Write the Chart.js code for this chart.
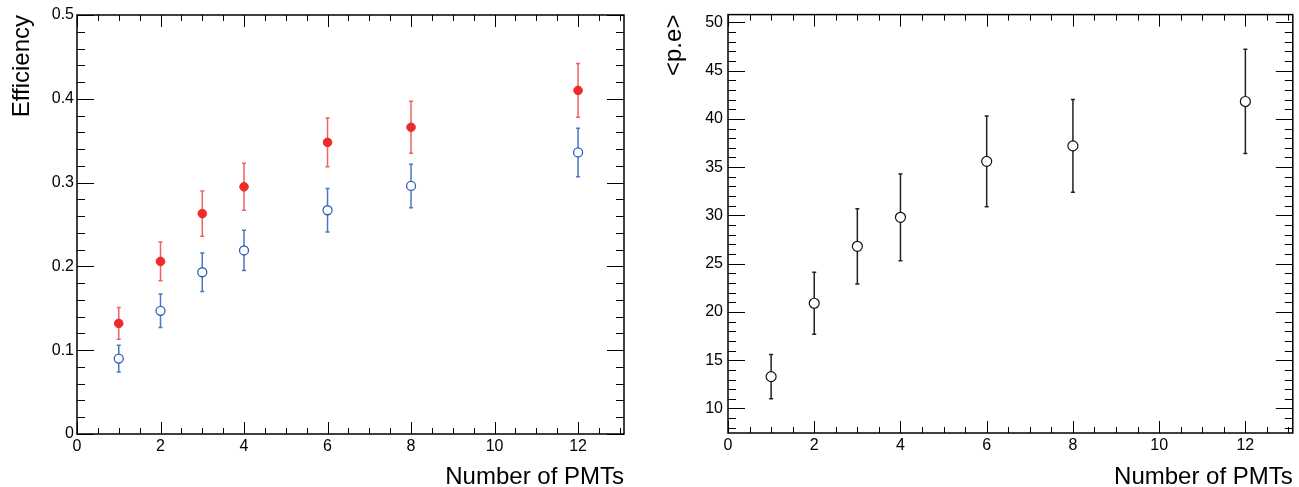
<!DOCTYPE html>
<html>
<head>
<meta charset="utf-8">
<script src="https://cdn.jsdelivr.net/npm/chart.js@4.4.0/dist/chart.umd.min.js"></script>
<style>
  body { margin: 0; background: #fff; }
  #wrap { position: relative; width: 1299px; height: 487px; }
  canvas { position: absolute; top: 0; }
</style>
</head>
<body>
<div id="wrap">
  <canvas id="eff-chart" width="650" height="487" style="left:0"></canvas>
  <canvas id="pe-chart" width="649" height="487" style="left:650px"></canvas>
</div>
<script>
// number of PMTs on the x axis (both panels)
const nPMT = [1, 2, 3, 4, 6, 8, 12];

// left panel: efficiency, two series
const effRed = [0.132, 0.206, 0.263, 0.295, 0.348, 0.366, 0.410];
const effRedErr = [0.019, 0.023, 0.027, 0.028, 0.029, 0.031, 0.032];
const effBlue = [0.090, 0.147, 0.193, 0.219, 0.267, 0.296, 0.336];
const effBlueErr = [0.016, 0.020, 0.023, 0.024, 0.026, 0.026, 0.029];

// right panel: mean photo-electrons
const pe = [13.3, 20.9, 26.8, 29.8, 35.6, 37.2, 41.8];
const peErr = [2.3, 3.2, 3.9, 4.5, 4.7, 4.8, 5.4];

const FONT = "'Liberation Sans', Arial, Helvetica, sans-serif";

function pts(ys) {
    return nPMT.map((n, i) => ({x: n, y: ys[i]}));
}

// vertical error bars with small caps, drawn under the markers
const errorBars = {
    id: 'errorBars',
    beforeDatasetsDraw(chart) {
        const {ctx, scales: {x, y}} = chart;
        chart.data.datasets.forEach(ds => {
            ctx.save();
            ctx.strokeStyle = ds.errColor;
            ctx.lineWidth = 1.5;
            ds.data.forEach((p, i) => {
                const px = x.getPixelForValue(p.x);
                const top = y.getPixelForValue(p.y + ds.errors[i]);
                const bot = y.getPixelForValue(p.y - ds.errors[i]);
                ctx.beginPath();
                ctx.moveTo(px, top);
                ctx.lineTo(px, bot);
                ctx.moveTo(px - 2, top);
                ctx.lineTo(px + 2, top);
                ctx.moveTo(px - 2, bot);
                ctx.lineTo(px + 2, bot);
                ctx.stroke();
            });
            ctx.restore();
        });
    }
};

// ROOT-like frame: box plus inward major/minor ticks on all four sides
function eachTick(min, max, minor, major, fn) {
    const start = Math.ceil(min / minor - 1e-6);
    for (let k = start; k * minor <= max + 1e-9; k++) {
        const v = k * minor;
        const r = v / major;
        fn(v, Math.abs(r - Math.round(r)) < 1e-6);
    }
}

const rootFrame = {
    id: 'rootFrame',
    afterDatasetsDraw(chart, args, o) {
        const {ctx, chartArea: a, scales: {x, y}} = chart;
        ctx.save();
        ctx.strokeStyle = '#000';
        ctx.lineWidth = 1;
        ctx.beginPath();
        eachTick(x.min, x.max, o.xMinor, o.xMajor, (v, major) => {
            const px = Math.round(x.getPixelForValue(v)) + 0.5;
            const len = major ? 12 : 6;
            ctx.moveTo(px, a.bottom);
            ctx.lineTo(px, a.bottom - len);
            ctx.moveTo(px, a.top);
            ctx.lineTo(px, a.top + len);
        });
        eachTick(y.min, y.max, o.yMinor, o.yMajor, (v, major) => {
            const py = Math.round(y.getPixelForValue(v)) + 0.5;
            const len = major ? 17 : 8;
            ctx.moveTo(a.left, py);
            ctx.lineTo(a.left + len, py);
            ctx.moveTo(a.right, py);
            ctx.lineTo(a.right - len, py);
        });
        ctx.stroke();
        ctx.lineWidth = 1.5;
        ctx.strokeRect(a.left, a.top, a.right - a.left, a.bottom - a.top);
        ctx.restore();
    }
};

function makeChart(id, datasets, opt) {
    const ctx = document.getElementById(id).getContext('2d');
    return new Chart(ctx, {
        type: 'scatter',
        data: {datasets: datasets},
        options: {
            responsive: false,
            animation: false,
            events: [],
            layout: {padding: opt.padding},
            plugins: {
                legend: {display: false},
                tooltip: {enabled: false},
                rootFrame: opt.ticks
            },
            scales: {
                x: {
                    type: 'linear',
                    min: 0,
                    max: 13.1,
                    grid: {display: false, drawTicks: false},
                    border: {display: false},
                    ticks: {
                        stepSize: 2,
                        includeBounds: false,
                        padding: 3,
                        color: '#000',
                        font: {family: FONT, size: 16}
                    },
                    title: {
                        display: true,
                        text: 'Number of PMTs',
                        align: 'end',
                        color: '#000',
                        font: {family: FONT, size: 24, lineHeight: 1},
                        padding: {top: 0, bottom: -2}
                    },
                    afterFit(scale) {
                        scale.height = opt.xHeight;
                    }
                },
                y: {
                    type: 'linear',
                    min: opt.yMin,
                    max: opt.yMax,
                    grid: {display: false, drawTicks: false},
                    border: {display: false},
                    ticks: {
                        stepSize: opt.yStep,
                        includeBounds: false,
                        padding: opt.yPad,
                        color: '#000',
                        font: {family: FONT, size: 16}
                    },
                    title: {
                        display: true,
                        text: opt.yTitle,
                        align: 'end',
                        color: '#000',
                        font: {family: FONT, size: 24, lineHeight: 1.2},
                        padding: {top: opt.yTitlePad, bottom: 0}
                    },
                    afterFit(scale) {
                        scale.width = opt.yWidth;
                    }
                }
            }
        },
        plugins: [errorBars, rootFrame]
    });
}

makeChart('eff-chart', [
    {
        data: pts(effRed),
        errors: effRedErr,
        errColor: '#f06262',
        pointRadius: 4.3,
        pointBackgroundColor: '#ee2b2b',
        pointBorderColor: '#ee2b2b',
        pointBorderWidth: 1
    },
    {
        data: pts(effBlue),
        errors: effBlueErr,
        errColor: '#4a78c2',
        pointRadius: 4.5,
        pointBackgroundColor: '#ffffff',
        pointBorderColor: '#2f62b8',
        pointBorderWidth: 1.3
    }
], {
    padding: {top: 15, right: 26, left: 0, bottom: 0},
    xHeight: 53,
    yWidth: 77,
    yMin: 0,
    yMax: 0.5,
    yStep: 0.1,
    yPad: 3,
    yTitle: 'Efficiency',
    yTitlePad: 8,
    ticks: {xMinor: 0.5, xMajor: 2, yMinor: 0.02, yMajor: 0.1}
});

makeChart('pe-chart', [
    {
        data: pts(pe),
        errors: peErr,
        errColor: '#222222',
        pointRadius: 5,
        pointBackgroundColor: '#ffffff',
        pointBorderColor: '#111111',
        pointBorderWidth: 1.2
    }
], {
    padding: {top: 13, right: 4, left: 0, bottom: 0},
    xHeight: 54,
    yWidth: 78,
    yMin: 7.46,
    yMax: 50.8,
    yStep: 5,
    yPad: 5,
    yTitle: '<p.e>',
    yTitlePad: 10,
    ticks: {xMinor: 0.5, xMajor: 2, yMinor: 1, yMajor: 5}
});
</script>
</body>
</html>
